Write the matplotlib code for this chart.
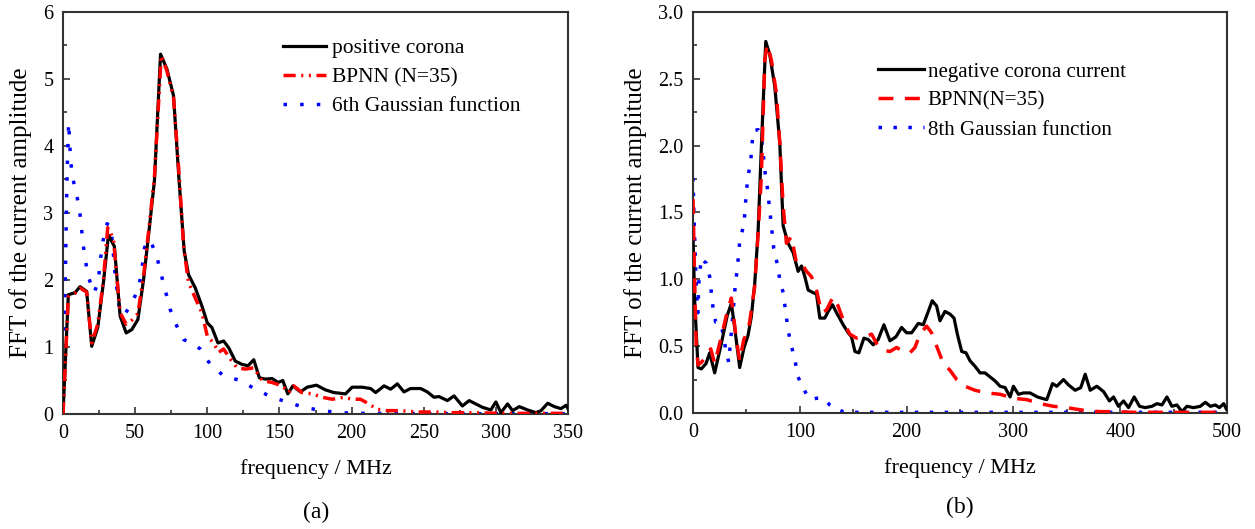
import matplotlib.pyplot as plt
from matplotlib.ticker import MultipleLocator

plt.rcParams['font.family'] = ['Liberation Serif', 'DejaVu Serif']

# (a) positive corona
pos_x = [0, 3.7, 8.3, 11.8, 16.4, 19.9, 24.1, 28.0, 31.5, 35.6,
         39.6, 43.8, 47.7, 51.9, 55.8, 59.7, 63.4, 67.6, 72.0, 76.6,
         80.1, 84.0, 87.0, 91.7, 96.3, 100.0, 103.2, 107.4, 111.3, 114.8,
         119.4, 124.1, 128.2, 132.2, 136.1, 140.3, 144.9, 149.1, 152.3, 155.8,
         159.3, 164.6, 169.2, 175.7, 181.9, 187.7, 195.8, 200.4, 207.4, 213.2,
         216.7, 222.5, 227.1, 231.7, 236.3, 240.9, 247.9, 252.5, 257.1, 260.6,
         266.4, 271.0, 276.8, 281.5, 286.1, 290.7, 296.5, 300.0, 303.5, 308.1,
         311.6, 316.2, 322.0, 327.8, 331.3, 335.9, 340.5, 345.1, 348.6, 350]
pos_y = [0, 1.78, 1.81, 1.90, 1.83, 1.01, 1.29, 1.96, 2.67, 2.50,
         1.46, 1.21, 1.26, 1.41, 2.0, 2.75, 3.49, 5.37, 5.15, 4.75,
         3.59, 2.43, 2.08, 1.88, 1.61, 1.36, 1.29, 1.06, 1.09, 0.99,
         0.79, 0.74, 0.72, 0.81, 0.54, 0.52, 0.53, 0.47, 0.50, 0.30,
         0.42, 0.33, 0.40, 0.43, 0.36, 0.32, 0.30, 0.40, 0.40, 0.38,
         0.32, 0.42, 0.37, 0.45, 0.33, 0.38, 0.38, 0.33, 0.25, 0.26,
         0.20, 0.27, 0.12, 0.20, 0.15, 0.10, 0.06, 0.18, 0.02, 0.15,
         0.05, 0.11, 0.06, 0.02, 0.05, 0.16, 0.11, 0.08, 0.13, 0.08]

bp_x = [0, 3.7, 8.3, 11.8, 16.4, 19.9, 24.1, 28.0, 31.0, 34.9,
        39.6, 43.8, 47.7, 51.9, 55.8, 59.7, 63.4, 68.1, 72.0, 76.6,
        80.1, 83.6, 87.0, 91.7, 96.3, 100.0, 104.4, 107.9, 111.3, 116.0,
        120.6, 126.4, 132.2, 138.0, 144.9, 151.9, 156.5, 159.9, 165.7, 172.7,
        179.6, 186.6, 194.6, 200.4, 206.2, 212.0, 217.8, 224.7, 233.9, 245.5,
        257.1, 268.6, 280.2, 303.5, 326.6, 350]
bp_y = [0, 1.75, 1.80, 1.88, 1.82, 1.06, 1.34, 2.00, 2.78, 2.62,
        1.51, 1.34, 1.40, 1.50, 2.05, 2.80, 3.55, 5.35, 5.12, 4.72,
        3.69, 2.50, 1.96, 1.73, 1.51, 1.16, 1.06, 0.92, 0.97, 0.82,
        0.69, 0.67, 0.69, 0.50, 0.47, 0.42, 0.32, 0.42, 0.32, 0.30,
        0.25, 0.22, 0.25, 0.22, 0.22, 0.15, 0.07, 0.05, 0.05, 0.03,
        0.03, 0.02, 0.02, 0.01, 0.01, 0.01]

g6_x = [0, 0.8, 1.6, 2.4, 3.2, 3.9, 5.3, 6.5, 9.2, 11.5, 12.7, 13.9, 15.7, 17.8,
        21.5, 24.3, 26.1, 27.7, 30.5, 33.0, 34.2, 36.3, 39.3, 42.5, 46.2, 52.0,
        54.3, 56.6, 60.4, 65.0, 68.1, 71.3, 74.3, 77.8, 83.6, 89.4, 95.1,
        102.1, 111.3, 122.9, 133.3, 144.9, 156.5, 166.9, 179.6, 191.2, 202.8,
        230, 260, 300, 350]
g6_y = [0, 0.9, 2.0, 3.1, 3.9, 4.35, 3.79, 3.54, 3.30, 3.04, 2.79, 2.54, 2.27, 2.03,
        1.81, 1.96, 2.33, 2.58, 2.84, 2.81, 2.57, 2.04, 1.55, 1.48, 1.60, 1.85,
        2.10, 2.49, 2.60, 2.35, 2.08, 1.81, 1.56, 1.36, 1.11, 1.06, 0.97,
        0.74, 0.57, 0.50, 0.37, 0.25, 0.17, 0.10, 0.05, 0.02, 0.01,
        0.01, 0.005, 0.005, 0.005]

# (b) negative corona
neg_x = [0, 1.5, 4.7, 7.8, 12.2, 15.6, 20.3, 26.5, 32.1, 35.9,
         39.0, 43.7, 47.8, 51.5, 54.6, 57.8, 60.9, 63.9, 68.1, 71.9,
         76.6, 81.25, 84.4, 89.0, 93.75, 98.4, 101.6, 104.7, 107.8, 112.5,
         115.6, 118.75, 123.4, 126.6, 130.6, 134.4, 140.6, 145.3, 148.4, 151.6,
         155.3, 160.0, 164.0, 168.75, 173.4, 178.75, 184.4, 190.0, 195.3, 200.0,
         204.7, 210.9, 215.6, 220.3, 224.0, 228.1, 231.25, 235.9, 240.6, 244.4,
         247.5, 251.6, 255.6, 259.4, 264.0, 268.75, 273.4, 278.1, 282.8, 287.5,
         292.2, 296.9, 300.0, 304.7, 309.4, 315.6, 322.5, 326.6, 331.25, 336.6,
         340.6, 346.9, 351.6, 357.8, 363.1, 367.2, 371.9, 378.1, 384.4, 389.9,
         393.75, 398.4, 403.1, 407.8, 413.1, 418.1, 423.4, 429.7, 434.4, 439.1,
         443.75, 448.4, 453.1, 457.8, 462.5, 468.75, 475.0, 479.7, 484.4, 489.0,
         492.9, 496.9, 499.4]
neg_y = [1.32, 0.85, 0.34, 0.33, 0.37, 0.45, 0.30, 0.52, 0.73, 0.82,
         0.64, 0.34, 0.49, 0.58, 0.72, 0.97, 1.35, 1.97, 2.78, 2.68,
         2.44, 2.02, 1.40, 1.27, 1.20, 1.06, 1.10, 1.02, 0.92, 0.90,
         0.89, 0.71, 0.71, 0.76, 0.81, 0.75, 0.66, 0.60, 0.57, 0.46,
         0.45, 0.56, 0.55, 0.51, 0.55, 0.66, 0.54, 0.57, 0.64, 0.60,
         0.60, 0.67, 0.66, 0.76, 0.84, 0.80, 0.69, 0.76, 0.74, 0.71,
         0.59, 0.46, 0.45, 0.39, 0.35, 0.30, 0.30, 0.27, 0.24, 0.20,
         0.19, 0.12, 0.20, 0.14, 0.15, 0.15, 0.12, 0.11, 0.10, 0.22,
         0.20, 0.25, 0.21, 0.17, 0.19, 0.29, 0.17, 0.20, 0.16, 0.09,
         0.12, 0.05, 0.09, 0.04, 0.12, 0.05, 0.04, 0.05, 0.07, 0.06,
         0.12, 0.05, 0.06, 0.01, 0.05, 0.04, 0.05, 0.08, 0.05, 0.06,
         0.04, 0.07, 0.03]

bp2_x = [0, 1.5, 3.0, 4.7, 8.0, 12.0, 16.6, 20.3, 26.5, 32.1, 35.9, 40.6, 43.7,
         47.5, 50.8, 53.0, 57.8, 61.0, 64.0, 67.2, 69.4, 73.4, 78.1, 81.25,
         84.4, 87.5, 92.2, 96.9, 101.6, 106.25, 110.9, 115.6, 120.3, 125.0,
         131.25, 135.9, 142.2, 146.9, 153.1, 160.9, 167.2, 171.9, 178.1, 184.4,
         190.6, 196.9, 203.1, 207.8, 212.5, 218.75, 223.4, 228.1, 234.4, 240.6,
         246.9, 254.7, 264.0, 275.0, 287.5, 300.0, 312.5, 325.0, 337.5, 350.0,
         365.6, 381.0, 396.9, 412.5, 450.0, 500.0]
bp2_y = [1.60, 1.0, 0.50, 0.36, 0.38, 0.42, 0.48, 0.37, 0.57, 0.76, 0.86, 0.55, 0.39,
         0.55, 0.60, 0.68, 0.95, 1.35, 1.77, 2.64, 2.76, 2.64, 2.39, 2.02,
         1.55, 1.27, 1.32, 1.12, 1.12, 1.06, 1.02, 0.92, 0.75, 0.77,
         0.87, 0.80, 0.66, 0.59, 0.56, 0.57, 0.59, 0.52, 0.47, 0.46,
         0.49, 0.46, 0.45, 0.49, 0.59, 0.65, 0.60, 0.50, 0.37, 0.32,
         0.25, 0.20, 0.17, 0.15, 0.14, 0.11, 0.10, 0.07, 0.05, 0.04,
         0.02, 0.01, 0.01, 0.005, 0.005, 0.005]

g8_x = [0, 1.0, 2.2, 3.2, 4.5, 5.6, 7.8, 9.6, 12.5, 15.6, 17.2, 18.7, 21.2, 25.0,
        28.1, 30.3, 33.4, 35.3, 37.5, 39.6, 41.5, 43.7, 47.8, 49.9, 51.5, 54.0,
        56.25, 60.9, 64.7, 67.5, 69.4, 72.5, 75.6, 78.75, 81.25, 84.4, 86.9,
        89.0, 92.2, 95.3, 98.4, 101.6, 106.25, 110.9, 115.6, 121.9, 128.1,
        134.4, 140.6, 146.9, 200, 300, 400, 500]
g8_y = [1.76, 1.45, 1.15, 0.92, 0.75, 1.00, 1.16, 1.14, 1.12, 1.02, 0.90, 0.79, 0.68, 0.68,
        0.60, 0.49, 0.38, 0.55, 0.75, 0.96, 1.08, 1.28, 1.42, 1.65, 1.77, 1.88,
        2.11, 2.12, 2.02, 1.80, 1.70, 1.47, 1.23, 1.12, 1.00, 0.90, 0.75,
        0.62, 0.50, 0.40, 0.27, 0.21, 0.14, 0.10, 0.11, 0.11, 0.06,
        0.03, 0.01, 0.005, 0.005, 0.005, 0.005, 0.005]

fig = plt.figure(figsize=(12.55, 5.29), dpi=100)
ax1 = fig.add_axes([0.0502, 0.2174, 0.4024, 0.760])
ax2 = fig.add_axes([0.5522, 0.2193, 0.4255, 0.758])

ax1.plot(pos_x, pos_y, color='black', lw=2.3, label='positive corona', zorder=3)
ax1.plot(bp_x, bp_y, color='red', lw=2.5, ls=(0, (3.5, 1.6, 0.6, 1.6, 0.6, 1.6)),
         label='BPNN (N=35)', zorder=4)
ax1.plot(g6_x, g6_y, color='blue', lw=2.5, ls=(0, (1, 3.8)),
         label='6th Gaussian function', zorder=2)

ax2.plot(neg_x, neg_y, color='black', lw=2.3, label='negative corona current', zorder=3)
ax2.plot(bp2_x, bp2_y, color='red', lw=2.5, ls=(0, (4.3, 3.3)),
         label='BPNN(N=35)', zorder=4)
ax2.plot(g8_x, g8_y, color='blue', lw=2.5, ls=(0, (1, 3.3)),
         label='8th Gaussian function', zorder=2)

ax1.set_xlim(0, 350)
ax1.set_ylim(0, 6)
ax1.xaxis.set_major_locator(MultipleLocator(50))
ax1.xaxis.set_minor_locator(MultipleLocator(25))
ax1.yaxis.set_major_locator(MultipleLocator(1))
ax1.yaxis.set_minor_locator(MultipleLocator(0.5))

ax2.set_xlim(0, 500)
ax2.set_ylim(0, 3.0)
ax2.xaxis.set_major_locator(MultipleLocator(100))
ax2.xaxis.set_minor_locator(MultipleLocator(50))
ax2.yaxis.set_major_locator(MultipleLocator(0.5))
ax2.yaxis.set_minor_locator(MultipleLocator(0.25))
ax2.yaxis.set_major_formatter('{x:.1f}')

for ax in (ax1, ax2):
    for s in ax.spines.values():
        s.set_color('#333333')
        s.set_linewidth(1.5)
    ax.tick_params(which='both', direction='in', color='#333333', width=1.2,
                   labelsize=14.5, pad=7, top=False, right=False)
    ax.tick_params(which='major', length=5)
    ax.tick_params(which='minor', length=3)
    ax.set_xlabel('frequency / MHz', fontsize=16, labelpad=12)
    ax.set_ylabel('FFT of the current amplitude', fontsize=18, labelpad=8)

ax1.legend(loc='upper left', bbox_to_anchor=(0.436, 0.935), frameon=False, fontsize=15.5,
           borderpad=0, borderaxespad=0, handlelength=2.0, handletextpad=0.25,
           labelspacing=0.42)
ax2.legend(loc='upper left', bbox_to_anchor=(0.346, 0.875), frameon=False, fontsize=15,
           borderpad=0, borderaxespad=0, handlelength=2.2, handletextpad=0.2,
           labelspacing=0.45)

fig.text(0.2515, 0.02, '(a)', fontsize=17, ha='center')
fig.text(0.7650, 0.03, '(b)', fontsize=17, ha='center')

fig.savefig('out.png', dpi=100)
